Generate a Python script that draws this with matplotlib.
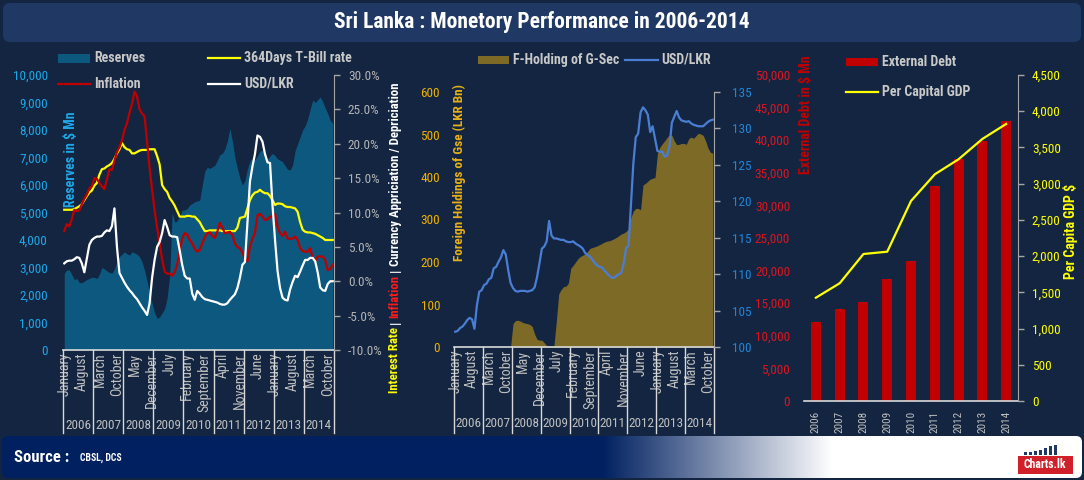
import numpy as np
import matplotlib
matplotlib.use('Agg')
import matplotlib.pyplot as plt
from matplotlib import font_manager as fm, transforms
from matplotlib.patches import Rectangle, FancyBboxPatch
from matplotlib.lines import Line2D
from matplotlib.ticker import FuncFormatter, MultipleLocator

# ---------------------------------------------------------------- data
years = ['2006', '2007', '2008', '2009', '2010', '2011', '2012', '2013', '2014']
month_labels = ['January', 'August', 'March', 'October', 'May', 'December', 'July',
                'February', 'September', 'April', 'November', 'June', 'January',
                'August', 'March', 'October']

# Gross official reserves, USD Mn (monthly, Jan 2006 - Dec 2014)
reserves = [2790, 2910, 2910, 2750, 2560, 2600, 2450, 2450, 2500, 2570, 2600, 2650,
            2640, 2600, 2750, 3000, 2950, 2880, 2820, 2790, 2950, 3200, 3400, 3480,
            3570, 3500, 3450, 3570, 3530, 3480, 3390, 3200, 2900, 2500, 2100, 1700,
            1350, 1150, 1200, 1350, 1500, 1900, 2700, 5000, 4650, 4700, 4850, 5090,
            5090, 5150, 5270, 5330, 5390, 5420, 5450, 6000, 6500, 6650, 6600, 6660,
            6720, 6900, 7100, 7150, 7300, 7600, 8060, 7600, 7000, 6600, 6250, 6000,
            6150, 6600, 6870, 6970, 6920, 7050, 7230, 7270, 7000, 6940, 7050, 7150,
            7070, 6950, 6900, 6850, 6700, 6570, 6550, 6730, 7250, 7500, 7750, 8000,
            8150, 8400, 8750, 9090, 9000, 9100, 9200, 9030, 8800, 8600, 8350, 8240]

# 364 day T-Bill rate, %
tbill = [10.4, 10.4, 10.4, 10.4, 10.5, 10.7, 10.9, 11.2, 11.8, 12.4, 12.9, 13.2,
         13.9, 14.3, 15.5, 16.3, 16.4, 16.7, 16.9, 17.2, 17.8, 18.6, 19.2, 20.1,
         19.5, 19.2, 19.1, 18.6, 18.6, 18.8, 19.0, 19.1, 19.1, 19.1, 19.2, 19.2,
         19.2, 18.2, 17.0, 14.0, 13.4, 13.0, 12.1, 11.6, 11.0, 10.2, 9.4, 9.4,
         9.4, 9.5, 9.5, 9.4, 9.4, 9.0, 8.6, 7.9, 7.3, 7.3, 7.4, 7.4,
         7.4, 7.4, 7.4, 7.3, 7.3, 7.3, 7.3, 7.3, 7.3, 7.8, 9.2, 9.3,
         9.4, 10.6, 11.8, 12.5, 12.9, 13.0, 13.3, 13.0, 12.8, 12.8, 12.4, 11.8,
         11.1, 11.3, 11.3, 11.2, 10.9, 10.8, 10.8, 10.7, 10.6, 10.1, 8.6, 7.5,
         7.2, 7.1, 7.1, 7.0, 6.9, 6.7, 6.5, 6.3, 6.0, 6.0, 6.0, 6.0]

# Inflation, %
inflation = [7.3, 8.3, 8.0, 9.0, 10.4, 10.2, 10.3, 11.2, 12.0, 12.6, 13.5, 13.8,
             15.0, 14.9, 14.3, 13.8, 13.4, 14.8, 16.3, 16.2, 17.5, 18.8, 19.5, 20.5,
             22.0, 23.0, 24.5, 25.8, 27.6, 26.9, 25.0, 24.4, 24.0, 20.3, 16.5, 13.3,
             10.3, 7.8, 5.5, 3.2, 1.4, 1.1, 1.1, 0.8, 1.3, 2.5, 4.2, 6.2,
             7.0, 6.8, 6.0, 5.5, 4.7, 4.3, 4.6, 5.5, 6.4, 7.0, 7.1, 6.6,
             6.3, 7.2, 8.5, 7.8, 7.0, 7.1, 7.2, 6.7, 5.5, 5.0, 4.8, 4.2,
             3.3, 2.9, 5.0, 6.2, 7.0, 9.6, 9.8, 9.4, 8.9, 9.0, 9.4, 9.4,
             9.8, 7.9, 7.0, 6.6, 7.2, 6.2, 6.2, 6.2, 6.5, 6.0, 4.8, 4.4,
             4.3, 4.3, 4.8, 3.4, 2.9, 3.6, 3.6, 3.6, 3.1, 1.6, 1.8, 2.4]

# USD/LKR appreciation / depreciation, %
usd_lkr_change = [2.6, 2.9, 3.0, 3.0, 3.2, 3.5, 3.4, 2.6, 1.3, 3.3, 5.3, 6.0,
                  6.3, 6.5, 6.5, 6.6, 7.1, 7.4, 7.3, 8.0, 10.6, 5.0, 1.2, 0.5,
                  -0.2, -0.8, -1.3, -1.7, -2.2, -2.6, -3.2, -3.8, -4.3, -4.9, -3.2, 0.5,
                  3.1, 5.0, 5.7, 7.0, 8.9, 7.9, 6.7, 6.5, 6.5, 6.4, 4.5, 2.4,
                  0.8, 0.4, 0.4, -1.8, -2.7, -1.4, -1.8, -2.3, -2.6, -2.7, -2.8, -2.9,
                  -3.0, -3.1, -3.3, -3.4, -3.4, -3.2, -2.7, -2.3, -1.9, -1.0, 0.5, 2.4,
                  2.8, 8.5, 14.5, 16.7, 18.5, 21.2, 21.0, 20.3, 18.5, 17.3, 17.2, 11.0,
                  6.0, 1.5, -1.0, -2.4, -2.7, -2.8, -1.2, -0.1, 0.8, 0.6, 1.4, 2.3,
                  3.1, 3.1, 3.4, 3.4, 2.9, 1.3, -0.9, -1.3, -1.4, -0.4, 0.0, 0.0]

# Foreign holdings of government securities, LKR Bn
f_holding = [0, 0, 0, 0, 0, 0, 0, 0, 0, 0, 0, 0,
             0, 0, 0, 0, 0, 0, 0, 0, 0, 0, 0, 0,
             55, 62, 63, 61, 58, 56, 55, 53, 48, 30, 18, 16,
             16, 10, 3, 2, 2, 2, 60, 125, 135, 142, 143, 150,
             185, 192, 200, 208, 213, 216, 219, 225, 232, 234, 236, 238,
             241, 244, 247, 249, 250, 252, 255, 258, 262, 266, 268, 272,
             278, 305, 320, 326, 326, 323, 381, 385, 390, 395, 397, 399,
             455, 470, 478, 485, 493, 499, 498, 485, 476, 477, 479, 479,
             477, 490, 494, 491, 497, 503, 501, 498, 485, 468, 458, 456]

# USD/LKR exchange rate
usd_lkr = [102.1, 102.2, 102.6, 102.8, 103.2, 103.7, 104.0, 103.8, 102.5, 105.7, 107.6, 107.8,
           108.5, 108.7, 109.3, 109.5, 110.8, 111.0, 111.7, 112.3, 113.3, 112.7, 110.6, 108.8,
           108.1, 107.7, 107.6, 107.7, 107.7, 107.7, 107.6, 107.7, 107.8, 108.2, 109.6, 111.5,
           113.5, 113.8, 114.5, 117.3, 115.3, 114.9, 114.9, 114.8, 114.7, 114.7, 114.5, 114.4,
           114.4, 114.5, 114.2, 114.0, 113.8, 113.5, 112.9, 112.6, 112.4, 112.0, 111.5, 111.2,
           111.0, 110.9, 110.5, 110.1, 109.8, 109.5, 109.5, 109.8, 110.0, 110.2, 111.5, 113.6,
           113.9, 119.5, 125.2, 128.8, 129.3, 132.2, 132.9, 132.5, 131.9, 129.5, 130.3, 128.6,
           126.9, 126.8, 126.8, 126.1, 126.3, 127.5, 130.8, 131.6, 132.4, 131.5, 131.1, 131.0,
           130.9, 131.0, 130.7, 130.5, 130.4, 130.3, 130.3, 130.3, 130.6, 130.9, 131.1, 131.2]

# Annual
external_debt = [12100, 14100, 15200, 18700, 21500, 32900, 37100, 39900, 42900]
gdp_per_capita = [1426, 1625, 2029, 2061, 2761, 3129, 3337, 3617, 3824]

# ---------------------------------------------------------------- style
names = {f.name for f in fm.fontManager.ttflist}
FONT = 'DejaVu Sans'
for cand in ['Liberation Sans Narrow', 'Roboto Condensed', 'Open Sans Condensed',
             'Noto Sans Condensed', 'DejaVu Sans Condensed']:
    if cand in names:
        FONT = cand
        break
plt.rcParams['font.family'] = [FONT, 'DejaVu Sans']

W, H = 1084, 480
BG = '#132540'
TITLE_BG = '#1f3864'
GREY = '#bfbfbf'
AXGREY = '#a6a6a6'
LEG = '#c8c8c8'
RES_C = '#0c587f'
OLIVE = '#7d6a26'
BLUE = '#4a7ed4'
RED = '#c00000'
YEL = '#ffff00'

fig = plt.figure(figsize=(W / 100, H / 100), dpi=100)
fig.patch.set_facecolor(BG)
IN = fig.dpi_scale_trans


def fx(x):
    return x / W


def fy(y):
    return 1 - y / H


def add_axes_px(x0, y0, x1, y1):
    return fig.add_axes([fx(x0), fy(y1), (x1 - x0) / W, (y1 - y0) / H])


# title bar
fig.add_artist(FancyBboxPatch((3 / 100, (H - 42) / 100), 1078 / 100, 39 / 100,
                              boxstyle='round,pad=0,rounding_size=0.07',
                              transform=IN, fc=TITLE_BG, ec='none'))
fig.text(fx(542), fy(22), 'Sri Lanka : Monetory Performance in 2006-2014',
         ha='center', va='center', color='white', fontsize=15.5, fontweight='bold')

x_m = np.arange(len(reserves))


def month_axis(ax, yr_off, sep_len):
    ax.set_xlim(-0.5, len(reserves) - 0.5)
    ax.set_xticks(list(range(0, len(reserves), 7)))
    ax.set_xticklabels(month_labels, rotation=90, va='top', ha='center',
                       fontsize=10, color=GREY)
    ax.tick_params(axis='x', length=0, pad=2)
    tr = transforms.blended_transform_factory(ax.transData, ax.transAxes)
    for k, yr in enumerate(years):
        ax.text(12 * k + 5.5, -yr_off, yr, transform=tr, ha='center', va='center',
                fontsize=9.5, color=GREY)
    for k in range(len(years) + 1):
        ax.plot([12 * k - 0.5] * 2, [0, -sep_len], transform=tr, clip_on=False,
                color='#d9d9d9', lw=1)


def style_left(ax, color, pad):
    for s in ['left', 'top', 'right']:
        ax.spines[s].set_visible(False)
    ax.spines['bottom'].set_color('#d9d9d9')
    ax.spines['bottom'].set_linewidth(1.2)
    ax.tick_params(axis='y', length=0, pad=pad, labelcolor=color, labelsize=9.5)
    ax.set_facecolor('none')


def style_right(ax, color, pad):
    for s in ['left', 'top', 'bottom']:
        ax.spines[s].set_visible(False)
    ax.spines['right'].set_color(AXGREY)
    ax.tick_params(axis='y', length=4, width=1, color=AXGREY, pad=pad,
                   labelcolor=color, labelsize=9.5, direction='out')


# ---------------------------------------------------------------- panel 1
ax1 = add_axes_px(63, 75, 334, 350)
ax1.fill_between(x_m, reserves, color=RES_C, lw=0)
ax1.set_ylim(0, 10000)
ax1.yaxis.set_major_locator(MultipleLocator(1000))
ax1.yaxis.set_major_formatter(FuncFormatter(lambda v, p: f'{v:,.0f}'))
style_left(ax1, '#1ea7e8', 11)
month_axis(ax1, 0.273, 0.302)

ax1r = ax1.twinx()
ax1r.plot(x_m, tbill, color=YEL, lw=1.6)
ax1r.plot(x_m, inflation, color=RED, lw=1.6)
ax1r.plot(x_m, usd_lkr_change, color='white', lw=1.6)
ax1r.set_ylim(-10, 30)
ax1r.yaxis.set_major_locator(MultipleLocator(5))
ax1r.yaxis.set_major_formatter(FuncFormatter(lambda v, p: f'{v:.1f}%'))
style_right(ax1r, '#b4b4b4', 6)

fig.text(fx(71), fy(159), 'Reserves in $ Mn', rotation=90, ha='center', va='center',
         color='#1ea7e8', fontsize=10, fontweight='bold')

# ---------------------------------------------------------------- panel 2
ax2 = add_axes_px(454, 92, 714, 347)
ax2.fill_between(x_m, f_holding, color=OLIVE, lw=0)
ax2.set_ylim(0, 600)
ax2.yaxis.set_major_locator(MultipleLocator(100))
style_left(ax2, '#f0b000', 10)
month_axis(ax2, 0.301, 0.339)

ax2r = ax2.twinx()
ax2r.plot(x_m, usd_lkr, color=BLUE, lw=1.6)
ax2r.set_ylim(100, 135)
ax2r.yaxis.set_major_locator(MultipleLocator(5))
style_right(ax2r, '#2185d8', 9)

fig.text(fx(459), fy(173), 'Foreign Holdings of Gse (LKR Bn)', rotation=90,
         ha='center', va='center', color='#e8b019', fontsize=9.5, fontweight='bold')

# ---------------------------------------------------------------- panel 3
ax3 = add_axes_px(804, 75, 1018, 401)
xb = np.arange(len(years))
ax3.bar(xb, external_debt, width=0.42, color=RED)
ax3.set_xlim(-0.5, len(years) - 0.5)
ax3.set_ylim(0, 50000)
ax3.yaxis.set_major_locator(MultipleLocator(5000))
ax3.yaxis.set_major_formatter(FuncFormatter(lambda v, p: f'{v:,.0f}'))
style_left(ax3, '#e0141e', 10)
ax3.set_xticks(xb)
ax3.set_xticklabels(years, rotation=90, va='top', ha='center', fontsize=8, color=GREY)
ax3.tick_params(axis='x', length=0, pad=7)

ax3r = ax3.twinx()
ax3r.plot(xb, gdp_per_capita, color=YEL, lw=1.6)
ax3r.set_ylim(0, 4500)
ax3r.yaxis.set_major_locator(MultipleLocator(500))
ax3r.yaxis.set_major_formatter(FuncFormatter(lambda v, p: f'{v:,.0f}'))
style_right(ax3r, YEL, 6)

fig.text(fx(806.5), fy(115), 'External Debt in $ Mn', rotation=90, ha='center',
         va='center', color=RED, fontsize=10, fontweight='bold')
fig.text(fx(1071), fy(231), 'Per Capita GDP $', rotation=90, ha='center',
         va='center', color=YEL, fontsize=10, fontweight='bold')

# multi-coloured rotated axis title between panel 1 and 2
renderer = fig.canvas.get_renderer()
pieces = [('Interest Rate', YEL), ('|', 'white'), ('Inflation', '#ff1a1a'), ('|', 'white'),
          ('Currency Appriciation / Depriciation', 'white')]
ycur = 393
for s, c in pieces:
    t = fig.text(fx(395), fy(ycur), s, rotation=90, ha='center', va='bottom',
                 color=c, fontsize=9.2, fontweight='bold')
    bb = t.get_window_extent(renderer)
    ycur -= bb.height + 3

# ---------------------------------------------------------------- legends


def leg_patch(x0, x1, yc, h, color):
    fig.add_artist(Rectangle((x0 / 100, (H - yc - h / 2) / 100), (x1 - x0) / 100, h / 100,
                             transform=IN, color=color, lw=0))


def leg_line(x0, x1, yc, color):
    fig.add_artist(Line2D([x0 / 100, x1 / 100], [(H - yc) / 100] * 2, transform=IN,
                          color=color, lw=1.6))


def leg_text(x, yc, s):
    fig.text(fx(x), fy(yc), s, ha='left', va='center', color=LEG, fontsize=10,
             fontweight='bold')


leg_patch(58, 90, 58, 9, RES_C)
leg_text(94, 58, 'Reserves')
leg_line(208, 240, 58, YEL)
leg_text(244, 58, '364Days T-Bill rate')
leg_line(58, 90, 84, RED)
leg_text(94, 84, 'Inflation')
leg_line(208, 240, 84, 'white')
leg_text(244, 84, 'USD/LKR')

leg_patch(478, 509, 60, 8, OLIVE)
leg_text(513, 60, 'F-Holding of G-Sec')
leg_line(625, 658, 60, BLUE)
leg_text(661, 60, 'USD/LKR')

leg_patch(846, 878, 62, 8, RED)
leg_text(882, 62, 'External Debt')
leg_line(846, 878, 92, YEL)
leg_text(882, 92, 'Per Capital GDP')

# ---------------------------------------------------------------- footer
fax = add_axes_px(2, 436, 1082, 478)
fax.set_xlim(0, 1080)
fax.set_ylim(0, 42)
fax.axis('off')
navy = np.array([0, 32, 96]) / 255.0
white = np.array([1.0, 1.0, 1.0])
cols = np.arange(1080)
tt = np.clip((cols - 600) / 230.0, 0, 1)[:, None]
grad = (navy * (1 - tt) + white * tt)[None, :, :]
im = fax.imshow(grad, extent=[0, 1080, 0, 42], aspect='auto', interpolation='bilinear')
clip = FancyBboxPatch((0, 0), 1080, 42, boxstyle='round,pad=0,rounding_size=6',
                      transform=fax.transData, fc='none', ec='none')
fax.add_patch(clip)
im.set_clip_path(clip)

fig.text(fx(14), fy(457), 'Source :', ha='left', va='center', color='white',
         fontsize=12, fontweight='bold')
fig.text(fx(80), fy(458), 'CBSL, DCS', ha='left', va='center', color='white',
         fontsize=7, fontweight='bold')

# Charts.lk logo
for k, hgt in enumerate([3, 3, 4, 5, 7, 9, 10]):
    fax.add_patch(Rectangle((1022 + k * 5, 23), 3, hgt, color='#1f3864', lw=0))
fax.add_patch(Rectangle((1016, 4), 55, 18, color='#d0202a', lw=0))
fax.text(1043, 13, 'Charts.lk', ha='center', va='center', color='white',
         fontsize=8.5, fontweight='bold')

fig.savefig('out.png', dpi=100, facecolor=BG)
